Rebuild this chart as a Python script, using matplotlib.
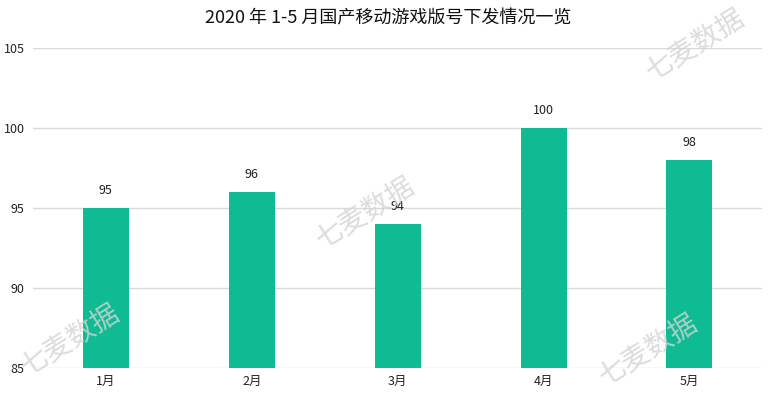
import matplotlib
matplotlib.use("Agg")
import matplotlib.pyplot as plt

plt.rcParams["font.family"] = ["Noto Sans CJK SC", "DejaVu Sans"]

MONTHS = ["1月", "2月", "3月", "4月", "5月"]
COUNTS = [95, 96, 94, 100, 98]
Y_TICKS = [85, 90, 95, 100, 105]
TITLE = "2020 年 1-5 月国产移动游戏版号下发情况一览"
WATERMARK = "七麦数据"

BAR_COLOR = "#0ebb93"
GRID_COLOR = "#d9d9d9"

fig = plt.figure(figsize=(7.76, 3.99), dpi=100)
ax = fig.add_axes([0.0425, 0.078, 0.94, 0.802])

x = range(len(MONTHS))
bars = ax.bar(x, COUNTS, width=0.315, color=BAR_COLOR, zorder=3)
for rect, v in zip(bars, COUNTS):
    ax.annotate(f"{v}", (rect.get_x() + rect.get_width() / 2, v),
                xytext=(0, 8), textcoords="offset points",
                ha="center", va="bottom", fontsize=9, color="#222222")

ax.set_ylim(85, 105)
ax.set_xlim(-0.5, len(MONTHS) - 0.5)
ax.set_yticks(Y_TICKS)
ax.set_xticks(list(x))
ax.set_xticklabels(MONTHS)
ax.tick_params(axis="both", length=0, labelsize=9, colors="#222222")
ax.tick_params(axis="y", pad=6)
ax.tick_params(axis="x", pad=5)
ax.grid(axis="y", color=GRID_COLOR, lw=1, zorder=0)
for s in ax.spines.values():
    s.set_visible(False)

fig.text(0.5, 0.955, TITLE, ha="center", va="center", fontsize=13,
         color="#111111")

# faint diagonal watermarks
for px, py in [(70, 340), (365, 213), (695, 45), (648, 350)]:
    fig.text(px / 776, 1 - py / 399, WATERMARK, ha="center", va="center",
             fontsize=20, rotation=32, color="#d4d4d4", alpha=0.8,
             fontweight="light", zorder=10)

fig.savefig("out.png", dpi=100)
